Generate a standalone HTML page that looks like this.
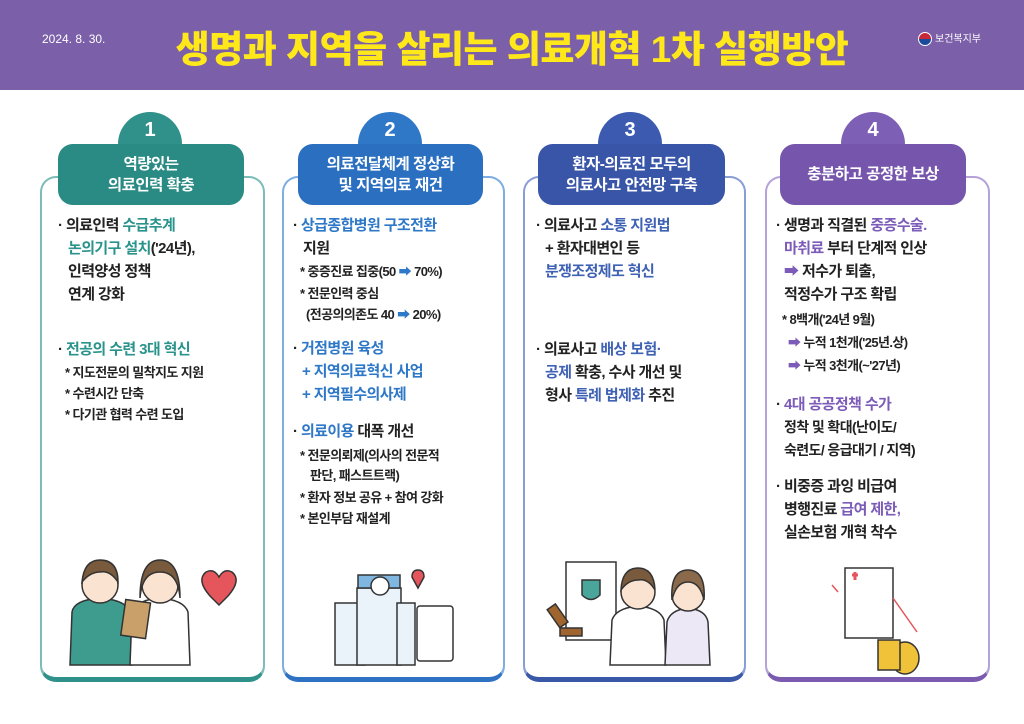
<!DOCTYPE html>
<html><head><meta charset="utf-8"><style>
*{margin:0;padding:0;box-sizing:border-box}
body{width:1024px;height:724px;background:#fff;position:relative;overflow:hidden;font-family:"Liberation Sans","Noto Sans CJK KR",sans-serif;font-weight:bold;color:#222}
.hd{position:absolute;left:0;top:0;width:1024px;height:90px;background:#7b5fa8}
.date{position:absolute;left:42px;top:32px;color:#fff;font-size:12px;font-weight:normal}
.title{position:absolute;left:0;width:1024px;top:19px;text-align:center;color:#ffe81a;font-size:37px;font-weight:900;letter-spacing:-0.5px}
.logo{position:absolute;left:918px;top:30px;color:#fff;font-size:10px;font-weight:normal}
.logo i{display:inline-block;width:14px;height:14px;border-radius:50%;background:linear-gradient(#c8283c 50%,#1a4a9a 50%);vertical-align:middle;margin-right:3px;border:1px solid #fff}
.card{position:absolute;top:176px;height:506px;border:2px solid;border-bottom-width:5px;border-radius:16px;background:#fff}
.tab{position:absolute;width:64px;height:50px;border-radius:32px 32px 0 0;top:112px;color:#fff;text-align:center;font-size:20px;padding-top:7px}
.pill{position:absolute;top:144px;height:61px;border-radius:15px;color:#fff;text-align:center;font-size:15.5px;line-height:21px;display:flex;align-items:center;justify-content:center;letter-spacing:-0.5px}
.t{position:absolute;font-size:15px;line-height:23px;white-space:nowrap;letter-spacing:-0.6px}
.s{position:absolute;font-size:13px;line-height:20px;white-space:nowrap;letter-spacing:-0.6px}
.c1{color:#2a938c}.c2{color:#2f78c8}.c3{color:#3f62b4}.c4{color:#7c5cb8}
</style></head><body>
<div class="hd"></div>
<div class="date">2024. 8. 30.</div>
<div class="title">생명과 지역을 살리는 의료개혁 1차 실행방안</div>
<div class="logo"><i></i>보건복지부</div>

<div class="card" style="left:40px;width:225px;border-color:#7cbdb8;border-bottom-color:#2f9189"></div>
<div class="tab" style="left:118px;background:#2f9189">1</div>
<div class="pill" style="left:58px;width:186px;background:#2a8a84">역량있는<br>의료인력 확충</div>

<div class="card" style="left:282px;width:223px;border-color:#7eaee0;border-bottom-color:#2f72c4"></div>
<div class="tab" style="left:358px;background:#2f78c8">2</div>
<div class="pill" style="left:298px;width:185px;background:#2b6fc0">의료전달체계 정상화<br>및 지역의료 재건</div>

<div class="card" style="left:523px;width:223px;border-color:#8a9ed6;border-bottom-color:#3a58a8"></div>
<div class="tab" style="left:598px;background:#3c5bb0">3</div>
<div class="pill" style="left:538px;width:187px;background:#3855a8">환자-의료진 모두의<br>의료사고 안전망 구축</div>

<div class="card" style="left:765px;width:225px;border-color:#b4a2d8;border-bottom-color:#7a5bb0"></div>
<div class="tab" style="left:841px;background:#7e5fb6">4</div>
<div class="pill" style="left:780px;width:186px;background:#7656ad">충분하고 공정한 보상</div>

<!-- card1 -->
<div class="t" style="left:58px;top:214px">· 의료인력 <span class="c1">수급추계</span></div>
<div class="t" style="left:68px;top:237px"><span class="c1">논의기구 설치</span>('24년),</div>
<div class="t" style="left:68px;top:260px">인력양성 정책</div>
<div class="t" style="left:68px;top:283px">연계 강화</div>
<div class="t" style="left:58px;top:338px">· <span class="c1">전공의 수련 3대 혁신</span></div>
<div class="s" style="left:65px;top:363px">* 지도전문의 밀착지도 지원</div>
<div class="s" style="left:65px;top:384px">* 수련시간 단축</div>
<div class="s" style="left:65px;top:405px">* 다기관 협력 수련 도입</div>

<!-- card2 -->
<div class="t" style="left:293px;top:214px">· <span class="c2">상급종합병원 구조전환</span></div>
<div class="t" style="left:303px;top:237px">지원</div>
<div class="s" style="left:300px;top:262px">* 중증진료 집중(50 <span class="c2">➡</span> 70%)</div>
<div class="s" style="left:300px;top:284px">* 전문인력 중심</div>
<div class="s" style="left:306px;top:305px">(전공의의존도 40 <span class="c2">➡</span> 20%)</div>
<div class="t" style="left:293px;top:337px">· <span class="c2">거점병원 육성</span></div>
<div class="t" style="left:302px;top:360px" ><span class="c2">+ 지역의료혁신 사업</span></div>
<div class="t" style="left:302px;top:383px"><span class="c2">+ 지역필수의사제</span></div>
<div class="t" style="left:293px;top:420px">· <span class="c2">의료이용</span> 대폭 개선</div>
<div class="s" style="left:300px;top:446px">* 전문의뢰제(의사의 전문적</div>
<div class="s" style="left:310px;top:466px">판단, 패스트트랙)</div>
<div class="s" style="left:300px;top:488px">* 환자 정보 공유 + 참여 강화</div>
<div class="s" style="left:300px;top:509px">* 본인부담 재설계</div>

<!-- card3 -->
<div class="t" style="left:536px;top:214px">· 의료사고 <span class="c3">소통 지원법</span></div>
<div class="t" style="left:545px;top:237px">+ 환자대변인 등</div>
<div class="t" style="left:545px;top:260px"><span class="c3">분쟁조정제도 혁신</span></div>
<div class="t" style="left:536px;top:338px">· 의료사고 <span class="c3">배상 보험·</span></div>
<div class="t" style="left:545px;top:361px"><span class="c3">공제</span> 확충, 수사 개선 및</div>
<div class="t" style="left:545px;top:384px">형사 <span class="c3">특례 법제화</span> 추진</div>

<!-- card4 -->
<div class="t" style="left:776px;top:214px">· 생명과 직결된 <span class="c4">중증수술.</span></div>
<div class="t" style="left:784px;top:237px"><span class="c4">마취료</span> 부터 단계적 인상</div>
<div class="t" style="left:784px;top:260px"><span class="c4">➡</span> 저수가 퇴출,</div>
<div class="t" style="left:784px;top:283px">적정수가 구조 확립</div>
<div class="s" style="left:782px;top:310px">* 8백개('24년 9월)</div>
<div class="s" style="left:788px;top:333px"><span class="c4">➡</span> 누적 1천개('25년.상)</div>
<div class="s" style="left:788px;top:356px"><span class="c4">➡</span> 누적 3천개(~'27년)</div>
<div class="t" style="left:776px;top:393px">· <span class="c4">4대 공공정책 수가</span></div>
<div class="s" style="left:784px;top:417px;font-size:14px">정착 및 확대(난이도/</div>
<div class="s" style="left:784px;top:440px;font-size:14px">숙련도/ 응급대기 / 지역)</div>
<div class="t" style="left:776px;top:475px">· 비중증 과잉 비급여</div>
<div class="t" style="left:784px;top:498px">병행진료 <span class="c4">급여 제한,</span></div>
<div class="t" style="left:784px;top:521px">실손보험 개혁 착수</div>

<!-- illustrations -->
<svg style="position:absolute;left:0;top:0" width="1024" height="724">
<g stroke="#333" stroke-width="1.5">
 <path d="M70 665 L72 612 Q74 600 100 598 Q126 600 130 612 L132 665 Z" fill="#3e9c8e"/>
 <circle cx="100" cy="585" r="18" fill="#fbe3d2"/>
 <path d="M82 582 Q84 560 100 560 Q118 560 118 582 Q110 570 100 572 Q90 572 82 582Z" fill="#7a5a3c"/>
 <path d="M130 665 L132 612 Q136 600 160 598 Q184 600 188 612 L190 665 Z" fill="#fff"/>
 <circle cx="160" cy="585" r="18" fill="#fbe3d2"/>
 <path d="M140 598 Q140 560 160 560 Q180 560 180 598 Q178 572 160 572 Q142 572 140 598Z" fill="#7a5a3c"/>
 <rect x="123" y="601" width="25" height="36" fill="#c9a06a" transform="rotate(8 135 620)"/>
 <path d="M210 596 Q196 580 206 572 Q214 568 219 577 Q224 568 232 572 Q242 580 228 596 L219 605 Z" fill="#e4555c"/>
 <rect x="335" y="603" width="30" height="62" fill="#eaf2fa"/>
 <rect x="357" y="588" width="44" height="77" fill="#eaf2fa"/>
 <rect x="397" y="603" width="18" height="62" fill="#eaf2fa"/>
 <rect x="358" y="575" width="42" height="13" fill="#7fb7e0"/>
 <circle cx="380" cy="586" r="9" fill="#fff"/>
 <rect x="417" y="606" width="36" height="55" rx="3" fill="#fff"/>
 <path d="M412 577 Q412 570 418 570 Q424 570 424 577 L418 588 Z" fill="#e4555c"/>
 <rect x="566" y="562" width="50" height="78" fill="#fff"/>
 <path d="M582 580 L600 580 L600 595 Q591 604 582 595Z" fill="#4aa59a"/>
 <path d="M610 665 L612 620 Q616 608 638 606 Q660 608 664 620 L666 665Z" fill="#fff"/>
 <circle cx="638" cy="592" r="17" fill="#fbe3d2"/>
 <path d="M621 590 Q622 568 638 568 Q654 568 655 590 Q648 578 638 580 Q628 580 621 590Z" fill="#7a5a3c"/>
 <path d="M665 665 L667 622 Q670 610 688 608 Q706 610 708 622 L710 665Z" fill="#ece8f5"/>
 <circle cx="688" cy="595" r="16" fill="#fbe3d2"/>
 <path d="M672 600 Q670 570 688 570 Q706 570 704 600 Q700 582 688 582 Q676 582 672 600Z" fill="#8a6a4a"/>
 <rect x="552" y="605" width="10" height="22" fill="#a0652e" transform="rotate(-35 557 615)"/>
 <rect x="560" y="628" width="22" height="8" fill="#a0652e"/>
 <rect x="845" y="568" width="48" height="70" fill="#fff"/>
 <path d="M852 575 L858 575 M855 572 L855 580" stroke="#e4555c" stroke-width="3"/>
 <ellipse cx="905" cy="658" rx="14" ry="16" fill="#f0c23a"/>
 <rect x="878" y="640" width="22" height="30" fill="#f0c23a"/>
 <path d="M838 592 L832 585 M893 598 L917 632" stroke="#e4555c"/>
</g>
</svg>
</body></html>
